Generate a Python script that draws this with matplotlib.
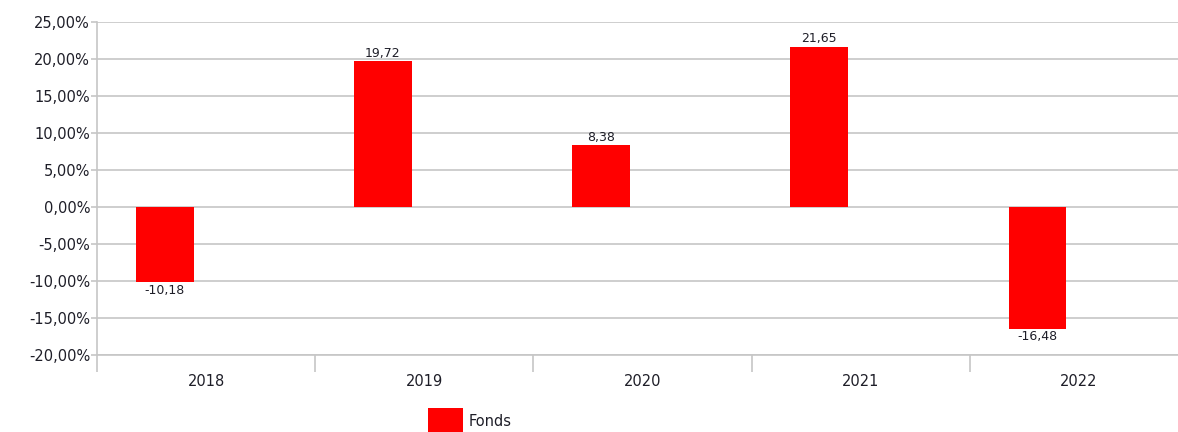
import matplotlib.pyplot as plt
import numpy as np
from matplotlib.ticker import FuncFormatter, FixedLocator

years = ["2018", "2019", "2020", "2021", "2022"]
fonds = [-10.18, 19.72, 8.38, 21.65, -16.48]

bar_red = "#ff0000"
grid_grey = "#c6c6c6"
text_col = "#1e1e28"

fig = plt.figure(figsize=(11.78, 4.32), dpi=100)
# plot area runs a little past the right edge of the image, as in the original
ax = fig.add_axes([97 / 1178, 1 - 355 / 432, 1091 / 1178, (355 - 22) / 432])

x = np.arange(len(years))
bars = ax.bar(x - 0.19, fonds, width=0.265, color=bar_red, zorder=3, label="Fonds")

for b, v in zip(bars, fonds):
    cx = b.get_x() + b.get_width() / 2
    lab = f"{v:.2f}".replace(".", ",")
    if v >= 0:
        ax.annotate(lab, (cx, v), xytext=(0, 1), textcoords="offset points",
                    ha="center", va="bottom", fontsize=9, color=text_col)
    else:
        ax.annotate(lab, (cx, v), xytext=(0, -1), textcoords="offset points",
                    ha="center", va="top", fontsize=9, color=text_col)

ax.set_xlim(-0.5, 4.5)
ax.set_ylim(-20, 25)
ax.set_yticks(np.arange(-20, 26, 5))
ax.yaxis.set_major_formatter(FuncFormatter(lambda v, p: f"{v:.2f}%".replace(".", ",")))
ax.yaxis.grid(True, color=grid_grey, linewidth=1.2, zorder=0)

ax.set_xticks(x)
ax.set_xticklabels(years)
ax.xaxis.set_minor_locator(FixedLocator(np.arange(-0.5, 4.6, 1)))
ax.tick_params(axis="x", which="major", length=0, pad=14, labelsize=10.5, colors=text_col)
ax.tick_params(axis="x", which="minor", length=12, width=1.2, color=grid_grey)
ax.tick_params(axis="y", length=4, width=1.2, color=grid_grey, labelsize=10.5, labelcolor=text_col, pad=1)

for s in ["top", "right"]:
    ax.spines[s].set_visible(False)
ax.spines["left"].set_color(grid_grey)
ax.spines["left"].set_linewidth(1.2)
ax.spines["bottom"].set_color(grid_grey)
ax.spines["bottom"].set_linewidth(1.2)

fig.legend(loc="upper left", bbox_to_anchor=(421 / 1178, 1 - 401 / 432), frameon=False,
           handlelength=2.4, handleheight=2.5, fontsize=10.5, borderpad=0, handletextpad=0.4,
           labelcolor=text_col)

fig.savefig("out.png", dpi=100)
